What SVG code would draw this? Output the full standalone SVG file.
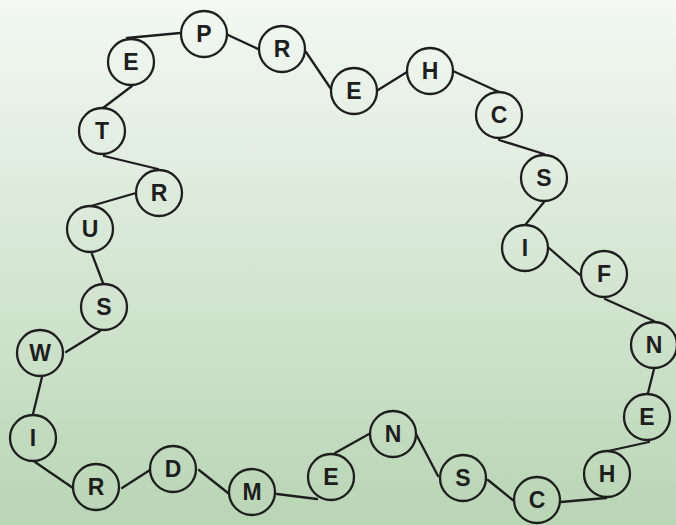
<svg xmlns="http://www.w3.org/2000/svg" width="676" height="525" viewBox="0 0 676 525">
  <defs>
    <linearGradient id="bg" x1="0" y1="0" x2="0" y2="1">
      <stop offset="0" stop-color="#f3f8f3"/>
      <stop offset="1" stop-color="#b8d5b4"/>
    </linearGradient>
    <style>
      .node circle { fill: none; stroke: #1e1e1e; stroke-width: 2.3; }
      .node text { font-family: "Liberation Sans", Arial, sans-serif; font-weight: bold; font-size: 23px; fill: #1e1e1e; text-anchor: middle; dominant-baseline: central; }
      #links line { stroke: #1e1e1e; stroke-width: 2.3; stroke-linecap: round; }
    </style>
  </defs>

  <rect width="676" height="525" fill="url(#bg)"/>

  <!-- chain links between letters -->
  <g id="links">
    <line x1="127" y1="38" x2="180" y2="33"/>
    <line x1="228" y1="35" x2="258" y2="49"/>
    <line x1="306" y1="52" x2="331" y2="89"/>
    <line x1="378" y1="90" x2="407" y2="72"/>
    <line x1="453" y1="71" x2="499" y2="92"/>
    <line x1="499" y1="140" x2="544" y2="154"/>
    <line x1="544" y1="202" x2="526" y2="224"/>
    <line x1="549" y1="248" x2="580" y2="275"/>
    <line x1="605" y1="299" x2="654" y2="321"/>
    <line x1="654" y1="369" x2="648" y2="393"/>
    <line x1="649" y1="442" x2="608" y2="451"/>
    <line x1="606" y1="498" x2="561" y2="502"/>
    <line x1="514" y1="501" x2="488" y2="480"/>
    <line x1="438" y1="476" x2="416" y2="434"/>
    <line x1="369" y1="434" x2="335" y2="453"/>
    <line x1="317" y1="499" x2="277" y2="494"/>
    <line x1="228" y1="493" x2="199" y2="470"/>
    <line x1="150" y1="470" x2="122" y2="488"/>
    <line x1="73" y1="488" x2="35" y2="462"/>
    <line x1="33" y1="414" x2="42" y2="377"/>
    <line x1="66" y1="352" x2="100" y2="331"/>
    <line x1="103" y1="283" x2="92" y2="254"/>
    <line x1="91" y1="206" x2="136" y2="193"/>
    <line x1="158" y1="169" x2="104" y2="156"/>
    <line x1="103" y1="108" x2="132" y2="86"/>
  </g>

  <!-- letters -->
  <g id="n-e1" class="node"><circle cx="131" cy="62" r="23"/><text x="131" y="62">E</text></g>
  <g id="n-p" class="node"><circle cx="204" cy="34" r="23"/><text x="204" y="34">P</text></g>
  <g id="n-r1" class="node"><circle cx="282" cy="49" r="23"/><text x="282" y="49">R</text></g>
  <g id="n-e2" class="node"><circle cx="354" cy="91" r="23"/><text x="354" y="91">E</text></g>
  <g id="n-h1" class="node"><circle cx="430" cy="71" r="23"/><text x="430" y="71">H</text></g>
  <g id="n-c1" class="node"><circle cx="499" cy="115" r="23"/><text x="499" y="115">C</text></g>
  <g id="n-s1" class="node"><circle cx="544" cy="178" r="23"/><text x="544" y="178">S</text></g>
  <g id="n-i1" class="node"><circle cx="525" cy="248" r="23"/><text x="525" y="248">I</text></g>
  <g id="n-f" class="node"><circle cx="604" cy="274" r="23"/><text x="604" y="274">F</text></g>
  <g id="n-n1" class="node"><circle cx="654" cy="345" r="23"/><text x="654" y="345">N</text></g>
  <g id="n-e3" class="node"><circle cx="647" cy="417" r="23"/><text x="647" y="417">E</text></g>
  <g id="n-h2" class="node"><circle cx="607" cy="474" r="23"/><text x="607" y="474">H</text></g>
  <g id="n-c2" class="node"><circle cx="537" cy="500" r="23"/><text x="537" y="500">C</text></g>
  <g id="n-s2" class="node"><circle cx="463" cy="478" r="23"/><text x="463" y="478">S</text></g>
  <g id="n-n2" class="node"><circle cx="393" cy="434" r="23"/><text x="393" y="434">N</text></g>
  <g id="n-e4" class="node"><circle cx="331" cy="477" r="23"/><text x="331" y="477">E</text></g>
  <g id="n-m" class="node"><circle cx="252" cy="492" r="23"/><text x="252" y="492">M</text></g>
  <g id="n-d" class="node"><circle cx="173" cy="469" r="23"/><text x="173" y="469">D</text></g>
  <g id="n-r3" class="node"><circle cx="96" cy="487" r="23"/><text x="96" y="487">R</text></g>
  <g id="n-i2" class="node"><circle cx="33" cy="438" r="23"/><text x="33" y="438">I</text></g>
  <g id="n-w" class="node"><circle cx="40" cy="353" r="23"/><text x="40" y="353">W</text></g>
  <g id="n-s3" class="node"><circle cx="104" cy="307" r="23"/><text x="104" y="307">S</text></g>
  <g id="n-u" class="node"><circle cx="90" cy="229" r="23"/><text x="90" y="229">U</text></g>
  <g id="n-r2" class="node"><circle cx="159" cy="193" r="23"/><text x="159" y="193">R</text></g>
  <g id="n-t" class="node"><circle cx="102" cy="131" r="23"/><text x="102" y="131">T</text></g>
</svg>
